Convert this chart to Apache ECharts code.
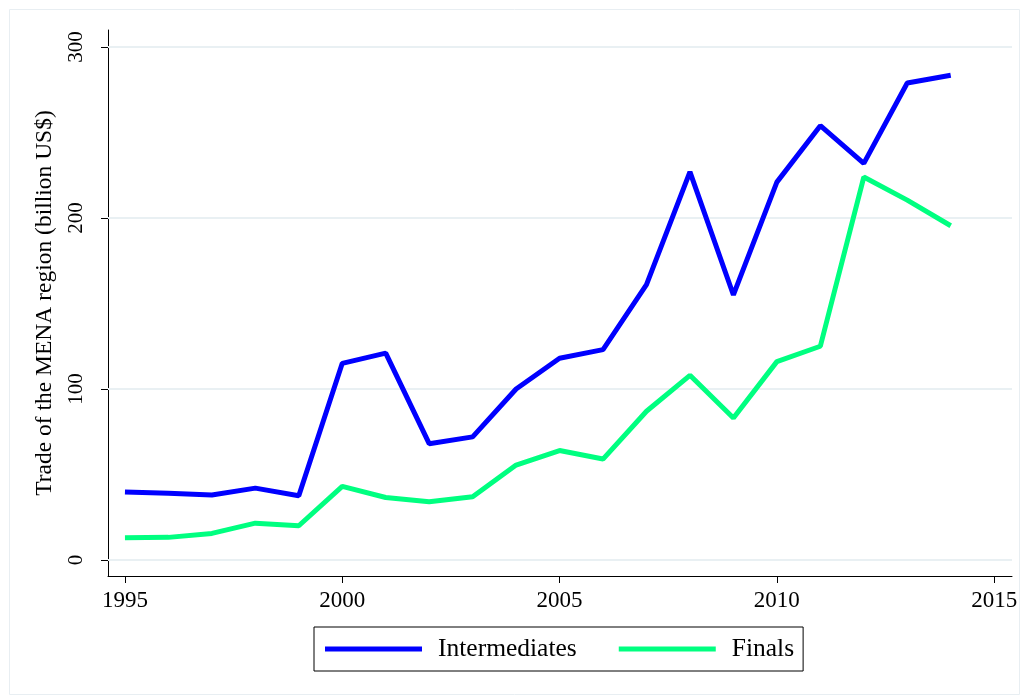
<!DOCTYPE html>
<html>
<head>
<meta charset="utf-8">
<title>Trade of the MENA region</title>
<script src="https://cdn.jsdelivr.net/npm/echarts@6/dist/echarts.min.js"></script>
<style>
  html, body { margin: 0; padding: 0; background: #fff; }
  #main { width: 1025px; height: 700px; }
</style>
</head>
<body>
<div id="main"></div>
<script>
// data (billion US$)
var years = [1995, 1996, 1997, 1998, 1999, 2000, 2001, 2002, 2003, 2004,
             2005, 2006, 2007, 2008, 2009, 2010, 2011, 2012, 2013, 2014];
var intermediates = [39.8, 39, 38, 42, 37.5, 115, 121, 68, 72, 100,
                     118, 123, 161, 227, 155, 221, 254, 232, 279, 283.5];
var finals = [13, 13.2, 15.5, 21.5, 20, 43, 36.5, 34, 37, 55.5,
              64, 59, 87, 108, 83, 116, 125, 224, 210.5, 195.5];
var xTicks = [1995, 2000, 2005, 2010, 2015];
var yTicks = [0, 100, 200, 300];

var font = "Liberation Serif";

function pairs(vals) {
  var out = [];
  for (var i = 0; i < years.length; i++) {
    out.push([years[i], vals[i]]);
  }
  return out;
}

var chart = echarts.init(document.getElementById("main"));
chart.setOption({
  backgroundColor: "#fff",
  animation: false,
  textStyle: { fontFamily: font },
  // faint outer frame of the graph region
  graphic: [{
    type: "rect",
    left: 7, top: 7,
    shape: { width: 1010, height: 685 },
    style: { fill: null, stroke: "#e8eef2", lineWidth: 1 },
    silent: true
  }],
  grid: { left: 108, right: 13, top: 30, bottom: 124 },
  xAxis: {
    type: "value",
    min: 1994.61,
    max: 2015.41,
    axisLine: { show: true, onZero: false, lineStyle: { color: "#000", width: 1 } },
    axisTick: { show: true, length: 7, customValues: xTicks, lineStyle: { color: "#000" } },
    axisLabel: {
      customValues: xTicks,
      color: "#000", fontSize: 23, fontFamily: font, margin: 13,
      formatter: function (v) { return String(v); }
    },
    splitLine: { show: false }
  },
  yAxis: {
    type: "value",
    min: -9.4,
    max: 310,
    name: "Trade of the MENA region (billion US$)",
    nameLocation: "middle",
    nameGap: 51,
    nameTextStyle: { color: "#000", fontSize: 23.5, fontFamily: font },
    axisLine: { show: true, onZero: false, lineStyle: { color: "#000", width: 1 } },
    axisTick: { show: true, length: 7, customValues: yTicks, lineStyle: { color: "#000" } },
    axisLabel: {
      customValues: yTicks,
      rotate: 90,
      color: "#000", fontSize: 21, fontFamily: font, margin: 21
    },
    splitLine: { show: false }
  },
  legend: {
    left: 314,
    top: 627,
    orient: "horizontal",
    borderColor: "#000",
    borderWidth: 1,
    borderRadius: 0,
    padding: [9, 9, 9, 11],
    itemWidth: 97,
    itemHeight: 5,
    itemGap: 42,
    icon: "rect",
    textStyle: { color: "#000", fontSize: 25.5, fontFamily: font, padding: [0, 0, 0, 11] },
    data: ["Intermediates", "Finals"]
  },
  series: [
    {
      name: "Intermediates",
      type: "line",
      data: pairs(intermediates),
      showSymbol: false,
      color: "#0000ff",
      lineStyle: { color: "#0000ff", width: 5 },
      // gridlines at the labelled values
      markLine: {
        silent: true,
        symbol: ["none", "none"],
        label: { show: false },
        lineStyle: { color: "#e9f0f3", width: 2, type: "solid" },
        data: yTicks.map(function (v) { return { yAxis: v }; }),
        z: 1
      },
      z: 3
    },
    {
      name: "Finals",
      type: "line",
      data: pairs(finals),
      showSymbol: false,
      color: "#00ff80",
      lineStyle: { color: "#00ff80", width: 5 },
      z: 3
    }
  ]
});
</script>
</body>
</html>
